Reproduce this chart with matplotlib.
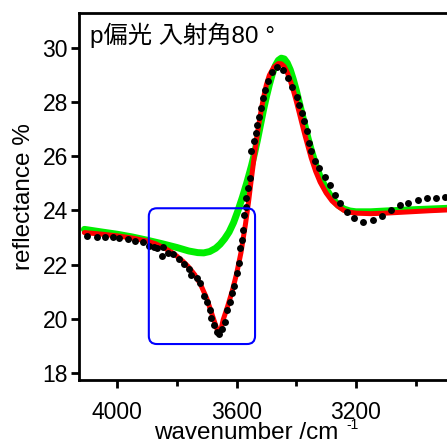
import matplotlib
matplotlib.use("Agg")
import matplotlib.pyplot as plt
from matplotlib.patches import FancyBboxPatch

# measured reflectance (black dots)
meas_x = [4100, 4069, 4041, 4013, 3993, 3963, 3939, 3913, 3894, 3876, 3865, 3847, 3851,
          3831, 3812, 3793, 3777, 3760, 3751, 3734, 3723, 3709, 3698, 3689, 3687, 3676,
          3667, 3659, 3648, 3639, 3631, 3622, 3615, 3608, 3600, 3593, 3587, 3581, 3578,
          3574, 3570, 3567, 3561, 3554, 3550, 3542, 3535, 3530, 3525, 3519, 3513, 3505,
          3496, 3480, 3463, 3446, 3427, 3415, 3399, 3390, 3382, 3374, 3365, 3358, 3349,
          3337, 3324, 3304, 3287, 3270, 3254, 3231, 3207, 3175, 3142, 3114, 3084, 3053,
          3025, 2991, 2961, 2932, 2902]
meas_y = [23.06, 23.03, 23.03, 23.0, 22.97, 22.95, 22.87, 22.85, 22.69, 22.66, 22.6, 22.64, 22.32,
          22.42, 22.39, 22.19, 22.02, 21.82, 21.62, 21.49, 21.31, 20.85, 20.63, 20.32, 20.01, 19.77,
          19.49, 19.42, 19.6, 19.89, 20.32, 20.63, 20.94, 21.22, 21.68, 22.05, 22.6, 22.91, 23.28,
          23.83, 24.14, 24.45, 24.82, 25.19, 26.18, 26.55, 26.86, 27.16, 27.47, 27.78, 28.15, 28.46,
          28.79, 29.1, 29.32, 29.2, 28.91, 28.58, 28.21, 27.9, 27.6, 27.29, 26.92, 26.49, 26.18,
          25.83, 25.56, 25.25, 24.94, 24.57, 24.27, 23.96, 23.71, 23.59, 23.63, 23.8, 24.02, 24.2,
          24.27, 24.39, 24.45, 24.45, 24.51]

# fitted curve (red)
fit_x = [4110, 4050, 4000, 3950, 3900, 3870, 3840, 3810, 3780, 3760, 3740, 3720, 3700, 3685,
         3670, 3660, 3652, 3645, 3630, 3615, 3600, 3585, 3570, 3560, 3550, 3540, 3530, 3520,
         3510, 3500, 3490, 3475, 3460, 3450, 3440, 3430, 3420, 3410, 3400, 3390, 3380, 3370,
         3360, 3350, 3335, 3320, 3300, 3280, 3260, 3240, 3220, 3200, 3150, 3100, 3050, 3000,
         2950, 2890]
fit_y = [23.18, 23.12, 23.06, 22.98, 22.87, 22.76, 22.6, 22.4, 22.12, 21.9, 21.62, 21.25, 20.75, 20.25,
         19.75, 19.45, 19.6, 19.95, 20.45, 21.0, 21.65, 22.45, 23.5, 24.3, 25.2, 26.05, 26.85, 27.55,
         28.15, 28.65, 29.0, 29.3, 29.43, 29.42, 29.32, 29.1, 28.8, 28.45, 28.05, 27.62, 27.18, 26.75,
         26.35, 25.95, 25.45, 25.05, 24.65, 24.35, 24.15, 24.0, 23.93, 23.9, 23.88, 23.9, 23.93, 23.96,
         23.99, 24.02]

# calculated curve without the dip (green)
calc_x = [4110, 4050, 4000, 3950, 3900, 3850, 3800, 3760, 3730, 3710, 3690, 3670, 3655, 3640,
          3625, 3610, 3595, 3580, 3565, 3550, 3540, 3530, 3520, 3510, 3500, 3490, 3480, 3470,
          3460, 3450, 3440, 3430, 3420, 3410, 3400, 3390, 3380, 3370, 3360, 3350, 3335, 3320,
          3300, 3280, 3260, 3240, 3220, 3200, 3150, 3100, 3000, 2890]
calc_y = [23.3, 23.2, 23.12, 23.02, 22.9, 22.77, 22.63, 22.5, 22.44, 22.43, 22.48, 22.6, 22.75, 22.95,
          23.2, 23.55, 24.0, 24.5, 25.05, 25.65, 26.1, 26.6, 27.15, 27.7, 28.2, 28.65, 29.05, 29.35,
          29.55, 29.63, 29.6, 29.45, 29.2, 28.85, 28.45, 28.0, 27.55, 27.1, 26.65, 26.25, 25.7, 25.25,
          24.8, 24.45, 24.2, 24.05, 23.98, 23.95, 23.95, 23.98, 24.03, 24.08]

# highlighted region (x range, y range)
box_x = [3538, 3894]
box_y = [19.06, 24.08]

x_ticks = [4000, 3600, 3200]
x_minor = [3800, 3400, 3000]
y_ticks = [18, 20, 22, 24, 26, 28, 30]

plt.rcParams["font.family"] = ["Liberation Sans", "Noto Sans CJK JP"]

fig = plt.figure(figsize=(4.47, 4.48), dpi=100)
ax = fig.add_axes([79 / 447, 68 / 448, 370 / 447, 367 / 448])

ax.plot(calc_x, calc_y, color="#00ee00", lw=5, solid_capstyle="round", zorder=1)
ax.plot(fit_x, fit_y, color="#ff0000", lw=3.6, solid_capstyle="round", zorder=2)
ax.plot(meas_x, meas_y, "o", color="black", ms=5, mew=0, zorder=3)

box = FancyBboxPatch((box_x[0], box_y[0]), box_x[1] - box_x[0], box_y[1] - box_y[0],
                     boxstyle="round,pad=0,rounding_size=27", mutation_aspect=0.011,
                     fc="none", ec="#0000ff", lw=1.5, zorder=4)
ax.add_patch(box)

ax.set_xlim(4128, 2888)
ax.set_ylim(17.73, 31.3)
ax.set_xticks(x_ticks)
ax.set_xticks(x_minor, minor=True)
ax.set_yticks(y_ticks)

for s in ax.spines.values():
    s.set_linewidth(2)
ax.tick_params(axis="both", which="major", direction="out", length=6, width=2,
               labelsize=16.5, colors="black")
ax.tick_params(axis="x", which="major", pad=9)
ax.tick_params(axis="y", which="major", pad=2)
ax.tick_params(axis="x", which="minor", direction="out", length=4, width=2)

ax.set_ylabel("reflectance %", fontsize=17.5)
ax.yaxis.set_label_coords(-0.12, 0.5)
ax.set_xlabel("wavenumber /cm", fontsize=17.5)
ax.xaxis.set_label_coords(0.453, -0.115)
fig.text(346 / 447, 1 - 425 / 448, "-1", fontsize=10, va="center", ha="left")

ax.text(0.03, 0.975, "p偏光 入射角80 °", transform=ax.transAxes, fontsize=17.5,
        va="top", ha="left")

plt.savefig("out.png", dpi=100)
